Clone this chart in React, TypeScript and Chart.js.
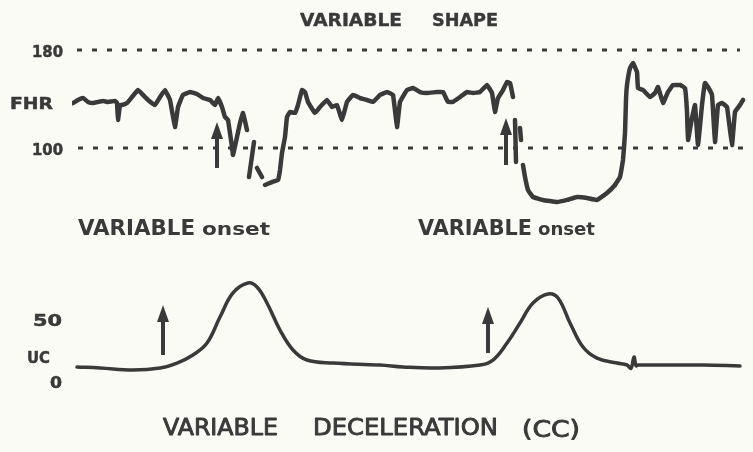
import { useEffect, useRef } from "react";
import { Chart, registerables } from "chart.js";

Chart.register(...registerables);

// ---- data ----
// time axis (arbitrary units along the strip), FHR in bpm (null = pen gap)
const fhrTime = [
  1, 6, 11, 16, 21, 26, 31, 36, 43, 45, 46, 48, 50, 55, 60, 66, 71, 76, 83, 88, 93, 98, 103, 106, 111, 118, 125, 131, 138, 143, 146, 150, 153, 156, 160, 161, 165, 168, 171, 175,
  176,
  177, 182,
  183,
  185, 190,
  191,
  193, 200, 206, 208, 210, 213, 215, 218, 223, 226, 230, 233, 236, 243, 248, 255, 260, 265, 270, 275, 281, 288, 295, 301, 308, 315, 321, 325, 328, 335, 341, 348, 355, 365, 371, 376, 381, 388, 395, 401, 408, 415, 420, 423, 426, 431, 435, 438, 441,
  442,
  443, 444,
  446,
  448, 449,
  450,
  451, 453, 456, 461, 471, 485, 495, 505, 515, 525, 535, 543, 548, 551, 553, 554, 555, 558, 561, 565, 566, 571, 578, 583, 586, 591, 596, 601, 608, 613, 615, 616, 620, 623, 626, 630, 633, 636, 640, 643, 646, 650, 655, 660, 663, 668, 671,
];
const fhrBpm = [
  136.7, 139.2, 140.8, 137.6, 136.7, 137.6, 138.4, 137.6, 138.4, 136.7, 122.9, 135.1, 135.1, 136.7, 141.6, 147.3, 143.3, 139.2, 135.1, 141.6, 147.3, 139.2, 117.1, 133.5, 143.3, 145.7, 144.1, 140.8, 139.2, 135.1, 140.8, 133.5, 125.3, 122.9, 100.8, 94.3, 109, 120.4, 128.6, 114.7,
  null,
  76.3, 104.9,
  null,
  83.7, 76.3,
  null,
  69.8, 72.2, 73.9, 82, 95.9, 109, 125.3, 129.4, 128.6, 135.1, 147.3, 145.7, 137.6, 128.6, 133.5, 139.2, 133.5, 135.1, 122.9, 137.6, 143.3, 140.8, 139.2, 137.6, 143.3, 145.7, 143.3, 117.1, 137.6, 147.3, 149, 145.7, 144.9, 145.7, 145.7, 137.6, 137.6, 141.6, 145.7, 144.9, 145.7, 151.4, 144.9, 129.4, 140.8, 147.3, 153.9, 153.1, 141.6,
  null,
  122.9, 88.6,
  null,
  116.3, 106.5,
  null,
  86.1, 76.3, 65.7, 60, 57.6, 55.9, 57.6, 60, 59.2, 57.6, 63.3, 69.8, 76.3, 90.2, 112.2, 139.2, 151.4, 165.3, 169.4, 162, 149, 147.3, 141.6, 144.9, 149.8, 136.7, 145.7, 151.4, 151.4, 149, 129.4, 106.5, 124.5, 135.1, 102.4, 135.1, 153.1, 149.8, 143.3, 104.9, 135.1, 136.7, 133.5, 102.4, 129.4, 135.1, 139.2,
];

const ucTime = [5, 28, 61, 88, 105, 121, 135, 148, 161, 176, 185, 195, 208, 221, 235, 261, 308, 331, 365, 408, 421, 435, 448, 461, 476, 486, 498, 511, 525, 545, 555, 559, 562, 564, 566, 581, 631, 668];
const ucValues = [10.5, 9.7, 8.1, 9.7, 13.7, 20.2, 29.8, 50.8, 70.2, 78.2, 75, 62.1, 40.3, 24.2, 16.1, 13.7, 12.1, 10.5, 9.7, 12.1, 16.1, 29.8, 46, 62.1, 69.4, 66.1, 46, 26.6, 17.7, 13.7, 12.1, 9.5, 18.5, 11.5, 12.1, 12.1, 12.1, 11.3];

// reference (dotted) lines on the FHR strip
const fhrRefLevels = [180, 100];
const fhrRefStart = [5, 6];
const fhrRefEnd = [668, 673];

// tick labels
const fhrLabelValues = [180, 138, 100];
const fhrLabelTexts = ["180", "FHR", "100"];
const ucLabelValues = [50, 20, 0];
const ucLabelTexts = ["50", "UC", "0"];

// onset arrows
const fhrArrowTime = [145, 434];
const fhrArrowFrom = [83.7, 86.1];
const fhrArrowTo = [121.2, 124.5];
const ucArrowTime = [91, 416];
const ucArrowFrom = [20.2, 21.8];
const ucArrowTo = [60.5, 58.9];

const INK = "#3a3a3a";
const PAPER = "#fbfbf6";
const FONT = '"DejaVu Sans", "Liberation Sans", sans-serif';

function drawFit(
  ctx: CanvasRenderingContext2D,
  text: string,
  x1: number,
  x2: number,
  baseline: number,
  size: number,
  weight: string,
  thicken = 0
) {
  ctx.save();
  ctx.font = `${weight} ${size}px ${FONT}`;
  ctx.textBaseline = "alphabetic";
  ctx.textAlign = "left";
  const w = ctx.measureText(text).width;
  ctx.translate(x1, baseline);
  ctx.scale((x2 - x1) / w, 1);
  ctx.fillStyle = INK;
  ctx.fillText(text, 0, 0);
  if (thicken > 0) {
    ctx.strokeStyle = INK;
    ctx.lineWidth = thicken;
    ctx.lineJoin = "round";
    ctx.strokeText(text, 0, 0);
  }
  ctx.restore();
}

function drawArrow(ctx: CanvasRenderingContext2D, x: number, yFrom: number, yTo: number) {
  ctx.save();
  ctx.strokeStyle = INK;
  ctx.fillStyle = INK;
  ctx.lineWidth = 4;
  ctx.lineCap = "butt";
  ctx.beginPath();
  ctx.moveTo(x, yFrom);
  ctx.lineTo(x, yTo + 12);
  ctx.stroke();
  ctx.beginPath();
  ctx.moveTo(x, yTo);
  ctx.lineTo(x - 6, yTo + 17);
  ctx.lineTo(x + 6, yTo + 17);
  ctx.closePath();
  ctx.fill();
  ctx.restore();
}

const annotPlugin = {
  id: "annot",
  beforeDraw(chart: any) {
    const ctx = chart.ctx;
    ctx.save();
    ctx.fillStyle = PAPER;
    ctx.fillRect(0, 0, chart.width, chart.height);
    ctx.restore();
  },
  afterDatasetsDraw(chart: any) {
    const ctx: CanvasRenderingContext2D = chart.ctx;
    const xs = chart.scales.x;
    const yf = chart.scales.yFhr;
    const yu = chart.scales.yUc;

    // titles
    drawFit(ctx, "VARIABLE", 300, 402, 26, 17, "bold", 0.4);
    drawFit(ctx, "SHAPE", 432, 498, 26, 17, "bold", 0.4);

    drawFit(ctx, "VARIABLE", 78, 195, 235, 20.5, "bold");
    drawFit(ctx, "onset", 202, 270, 235, 17, "bold");
    drawFit(ctx, "VARIABLE", 418, 532, 235, 20.5, "bold");
    drawFit(ctx, "onset", 538, 595, 235, 17, "bold");

    drawFit(ctx, "VARIABLE", 163, 278, 435, 22.5, "normal", 0.9);
    drawFit(ctx, "DECELERATION", 313, 498, 435, 22.5, "normal", 0.9);
    drawFit(ctx, "(CC)", 522, 580, 437, 22.5, "normal", 0.9);

    // axis labels
    const fhrLeft = [32, 10, 32];
    const fhrRight = [63, 53, 63];
    fhrLabelValues.forEach((v, i) => {
      const y = yf.getPixelForValue(v);
      drawFit(ctx, fhrLabelTexts[i], fhrLeft[i], fhrRight[i], y + 7.5, 16, "bold", 0.5);
    });
    const ucLeft = [33, 27, 50];
    const ucRight = [62, 50, 62];
    ucLabelValues.forEach((v, i) => {
      const y = yu.getPixelForValue(v);
      drawFit(ctx, ucLabelTexts[i], ucLeft[i], ucRight[i], y + 7.5, 16, "bold", 0.5);
    });

    // arrows
    fhrArrowTime.forEach((t, i) => {
      drawArrow(ctx, xs.getPixelForValue(t), yf.getPixelForValue(fhrArrowFrom[i]), yf.getPixelForValue(fhrArrowTo[i]));
    });
    ucArrowTime.forEach((t, i) => {
      drawArrow(ctx, xs.getPixelForValue(t), yu.getPixelForValue(ucArrowFrom[i]), yu.getPixelForValue(ucArrowTo[i]));
    });
  },
};

export default function App() {
  const ref = useRef<HTMLCanvasElement | null>(null);

  useEffect(() => {
    if (!ref.current) return;
    const refSets = fhrRefLevels.map((lvl, i) => ({
      label: `ref${lvl}`,
      data: [
        { x: fhrRefStart[i], y: lvl },
        { x: fhrRefEnd[i], y: lvl },
      ],
      yAxisID: "yFhr",
      borderColor: INK,
      borderWidth: 3,
      borderDash: [5, 10],
      pointRadius: 0,
      fill: false,
    }));

    const chart = new Chart(ref.current, {
      type: "line",
      data: {
        datasets: [
          ...refSets,
          {
            label: "FHR",
            data: fhrTime.map((t, i) => ({ x: t, y: fhrBpm[i] })),
            yAxisID: "yFhr",
            borderColor: INK,
            borderWidth: 4.5,
            pointRadius: 0,
            tension: 0.08,
            spanGaps: false,
            borderJoinStyle: "round",
            borderCapStyle: "round",
            fill: false,
          },
          {
            label: "UC",
            data: ucTime.map((t, i) => ({ x: t, y: ucValues[i] })),
            yAxisID: "yUc",
            borderColor: INK,
            borderWidth: 3.5,
            pointRadius: 0,
            tension: 0.4,
            borderCapStyle: "round",
            borderJoinStyle: "round",
            fill: false,
          },
        ] as any,
      },
      options: {
        animation: false,
        responsive: false,
        maintainAspectRatio: false,
        layout: { padding: { left: 72, right: 5, top: 40, bottom: 52 } },
        plugins: {
          legend: { display: false },
          tooltip: { enabled: false },
          title: { display: false },
        },
        scales: {
          x: { type: "linear", min: 0, max: 676, display: false },
          yFhr: { type: "linear", min: -105.714, max: 188.163, display: false },
          yUc: { type: "linear", min: -16.129, max: 274.194, display: false },
        },
      },
      plugins: [annotPlugin],
    });
    return () => chart.destroy();
  }, []);

  return (
    <div style={{ position: "fixed", left: 0, top: 0, width: 753, height: 452, background: PAPER }}>
      <canvas ref={ref} width={753} height={452} style={{ display: "block" }} />
    </div>
  );
}
